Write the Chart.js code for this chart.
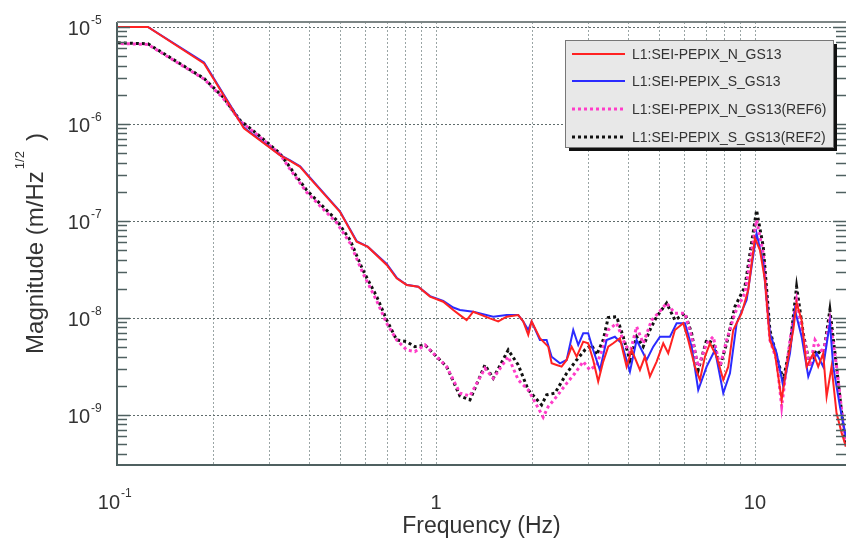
<!DOCTYPE html>
<html lang="en">
<head>
<meta charset="UTF-8">
<title>L1 SEI PEPIX GS13 spectra</title>
<script src="https://cdn.jsdelivr.net/npm/chart.js"></script>
<style>
  body { margin: 0; background: #fff; }
</style>
</head>
<body>
<canvas id="specChart" width="846" height="538"></canvas>
<script>
// L1:SEI-PEPIX_N_GS13 (red)
const nFreq = [0.0625, 0.125, 0.1875, 0.25, 0.324, 0.349, 0.375, 0.403, 0.5, 0.564, 0.612, 0.701, 0.753, 0.809, 0.88, 0.958, 1.054, 1.133, 1.189, 1.248, 1.309, 1.391, 1.476, 1.568, 1.666, 1.811, 1.878, 1.947, 1.995, 2.118, 2.249, 2.305, 2.39, 2.477, 2.569, 2.663, 2.761, 2.895, 3.001, 3.111, 3.226, 3.345, 3.468, 3.595, 3.773, 3.96, 4.106, 4.36, 4.52, 4.686, 4.919, 5.159, 5.348, 5.613, 5.96, 6.179, 6.485, 6.723, 6.971, 7.228, 7.585, 7.958, 8.25, 8.551, 9.085, 9.528, 10.0, 10.37, 10.75, 11.14, 11.55, 12.13, 12.57, 13.19, 13.51, 14.01, 14.53, 15.24, 15.79, 16.37, 16.78, 17.39, 18.03, 18.71, 19.29];
const nMag = [1e-5, 1e-5, 4.2e-6, 9e-7, 4.77e-7, 4.16e-7, 3.61e-7, 2.75e-7, 1.24e-7, 6.1e-8, 5.4e-8, 3.52e-8, 2.56e-8, 2.19e-8, 2.1e-8, 1.66e-8, 1.47e-8, 1.21e-8, 1.07e-8, 9.5e-9, 1.16e-8, 1.07e-8, 9.9e-9, 9.2e-9, 1.03e-8, 1.07e-8, 9.2e-9, 6.7e-9, 9.2e-9, 6.18e-9, 5.06e-9, 3.41e-9, 3.28e-9, 3.15e-9, 3.69e-9, 5.06e-9, 3.99e-9, 5.7e-9, 5.48e-9, 3.69e-9, 2.21e-9, 3.55e-9, 5.06e-9, 5.48e-9, 6.18e-9, 3.15e-9, 4.68e-9, 2.91e-9, 3.99e-9, 2.49e-9, 3.55e-9, 5.48e-9, 4.33e-9, 7.52e-9, 8.81e-9, 5.93e-9, 3.15e-9, 2.3e-9, 3.99e-9, 5.48e-9, 3.99e-9, 2.3e-9, 3.15e-9, 7.52e-9, 1.12e-8, 1.94e-8, 6.67e-8, 5e-8, 2.46e-8, 5.93e-9, 4.33e-9, 1.43e-9, 3.15e-9, 7.52e-9, 1.43e-8, 9.5e-9, 3.15e-9, 4.33e-9, 3.15e-9, 4.33e-9, 1.55e-9, 3.15e-9, 1.04e-9, 6.5e-10, 4.73e-10];

// L1:SEI-PEPIX_S_GS13 (blue)
const sFreq = [0.0625, 0.125, 0.1875, 0.25, 0.324, 0.349, 0.375, 0.403, 0.5, 0.564, 0.612, 0.701, 0.753, 0.809, 0.88, 0.958, 1.054, 1.133, 1.189, 1.309, 1.512, 1.666, 1.811, 1.878, 1.947, 1.995, 2.118, 2.223, 2.305, 2.448, 2.569, 2.694, 2.793, 2.895, 3.001, 3.111, 3.266, 3.428, 3.639, 3.82, 4.056, 4.257, 4.576, 4.8, 5.038, 5.414, 5.682, 6.034, 6.333, 6.642, 7.057, 7.493, 7.958, 8.351, 8.763, 9.419, 10.12, 10.62, 11.14, 11.7, 12.27, 12.88, 13.35, 14.01, 14.7, 15.61, 16.37, 17.18, 17.6, 18.48, 19.29];
const sMag = [1e-5, 1e-5, 4.3e-6, 9.2e-7, 4.8e-7, 4.2e-7, 3.65e-7, 2.8e-7, 1.26e-7, 6.2e-8, 5.4e-8, 3.6e-8, 2.6e-8, 2.2e-8, 2.1e-8, 1.68e-8, 1.5e-8, 1.28e-8, 1.21e-8, 1.16e-8, 1.03e-8, 1.07e-8, 1.07e-8, 9.2e-9, 7.52e-9, 9.2e-9, 5.93e-9, 5.93e-9, 3.99e-9, 3.41e-9, 3.69e-9, 7.52e-9, 5.27e-9, 6.95e-9, 6.95e-9, 4.68e-9, 2.91e-9, 5.93e-9, 6.41e-9, 5.48e-9, 2.8e-9, 5.93e-9, 3.69e-9, 5.06e-9, 6.41e-9, 6.41e-9, 8.81e-9, 8.81e-9, 5.06e-9, 1.81e-9, 3.15e-9, 4.68e-9, 1.68e-9, 2.69e-9, 8.81e-9, 1.53e-8, 7.45e-8, 3.66e-8, 6.95e-9, 4.33e-9, 1.96e-9, 4.33e-9, 1.21e-8, 6.41e-9, 2.49e-9, 4.33e-9, 3.15e-9, 8.87e-9, 3.15e-9, 1.21e-9, 5.93e-10];

// L1:SEI-PEPIX_N_GS13(REF6) (magenta, dotted)
const nRefFreq = [0.0625, 0.125, 0.1875, 0.215, 0.243, 0.274, 0.324, 0.349, 0.393, 0.488, 0.538, 0.59, 0.652, 0.701, 0.753, 0.809, 0.859, 0.924, 1.005, 1.08, 1.189, 1.278, 1.424, 1.512, 1.685, 1.811, 1.947, 2.169, 2.249, 2.39, 2.569, 2.727, 2.895, 3.038, 3.189, 3.345, 3.468, 3.685, 3.864, 4.056, 4.257, 4.465, 4.745, 4.977, 5.287, 5.613, 6.034, 6.333, 6.642, 7.057, 7.402, 7.77, 8.155, 8.657, 9.304, 10.12, 10.62, 11.14, 11.7, 12.13, 12.88, 13.51, 14.17, 14.88, 15.43, 16.37, 17.18, 18.03, 19.29];
const nRefMag = [7.1e-6, 6.6e-6, 2.9e-6, 1.85e-6, 1.07e-6, 7.8e-7, 4.9e-7, 3.4e-7, 1.98e-7, 9.6e-8, 5.9e-8, 2.9e-8, 1.5e-8, 8.8e-9, 5.93e-9, 4.68e-9, 4.5e-9, 5.27e-9, 3.99e-9, 3.15e-9, 1.68e-9, 1.57e-9, 3.03e-9, 2.39e-9, 3.99e-9, 2.3e-9, 1.81e-9, 9.5e-10, 1.22e-9, 1.55e-9, 2.12e-9, 2.69e-9, 3.55e-9, 2.91e-9, 3.28e-9, 5.06e-9, 7.52e-9, 8.81e-9, 5.93e-9, 4.33e-9, 8.13e-9, 5.48e-9, 9.5e-9, 1.12e-8, 1.42e-8, 1.12e-8, 1.12e-8, 6.41e-9, 3.15e-9, 5.48e-9, 6.41e-9, 3.15e-9, 5.93e-9, 1.12e-8, 1.8e-8, 1.02e-7, 4.64e-8, 5.93e-9, 3.69e-9, 1.22e-9, 5.93e-9, 1.53e-8, 6.41e-9, 3.15e-9, 5.93e-9, 4.33e-9, 9.5e-9, 3.15e-9, 4.73e-10];

// L1:SEI-PEPIX_S_GS13(REF2) (black, dotted)
const sRefFreq = [0.0625, 0.125, 0.1875, 0.215, 0.243, 0.274, 0.324, 0.349, 0.393, 0.488, 0.538, 0.59, 0.652, 0.701, 0.753, 0.809, 0.859, 0.924, 1.005, 1.08, 1.189, 1.278, 1.424, 1.512, 1.685, 1.811, 1.947, 2.144, 2.223, 2.361, 2.569, 2.761, 2.931, 3.076, 3.189, 3.345, 3.468, 3.685, 3.864, 4.056, 4.257, 4.465, 4.686, 4.919, 5.287, 5.613, 6.034, 6.333, 6.642, 7.057, 7.402, 7.77, 8.155, 8.657, 9.304, 10.12, 10.62, 11.14, 11.7, 12.27, 12.88, 13.51, 14.17, 14.88, 15.61, 16.37, 17.18, 18.03, 18.71, 19.29];
const sRefMag = [7.2e-6, 6.7e-6, 2.94e-6, 1.9e-6, 1.09e-6, 7.98e-7, 4.97e-7, 3.55e-7, 2.08e-7, 1.02e-7, 6.35e-8, 3.12e-8, 1.66e-8, 9.5e-9, 5.93e-9, 5.7e-9, 5.06e-9, 5.27e-9, 3.99e-9, 3.15e-9, 1.57e-9, 1.43e-9, 3.28e-9, 2.39e-9, 4.68e-9, 3.28e-9, 1.81e-9, 1.27e-9, 1.61e-9, 1.68e-9, 2.69e-9, 3.69e-9, 4.68e-9, 5.27e-9, 4.16e-9, 5.93e-9, 1.01e-8, 1.03e-8, 6.41e-9, 3.69e-9, 6.41e-9, 5.06e-9, 7.52e-9, 1.03e-8, 1.42e-8, 9.5e-9, 1.12e-8, 6.95e-9, 2.91e-9, 5.93e-9, 5.48e-9, 3.15e-9, 5.48e-9, 1.31e-8, 2.1e-8, 1.29e-7, 5.42e-8, 7.52e-9, 3.99e-9, 2.3e-9, 5.06e-9, 2.1e-8, 6.95e-9, 3.15e-9, 4.68e-9, 3.99e-9, 1.21e-8, 3.15e-9, 1.04e-9, 4.73e-10];

// axis tick labels (drawn as 10 with a superscript exponent)
const xTickValues = [0.1, 1, 10];
const xTickText = ['10', '1', '10'];
const xTickExp = ['-1', '', ''];
const yTickValues = [1e-5, 1e-6, 1e-7, 1e-8, 1e-9];
const yTickExp = ['-5', '-6', '-7', '-8', '-9'];

const FONT = '"Liberation Sans", Arial, sans-serif';
const AXIS = '#4f6060';

function pts(f, m) { return f.map((v, i) => ({ x: v, y: m[i] })); }

function seg(ctx, x1, y1, x2, y2) {
  ctx.beginPath(); ctx.moveTo(x1, y1); ctx.lineTo(x2, y2); ctx.stroke();
}

const framePlugin = {
  id: 'frame',
  beforeDatasetsDraw(chart) {
    const { ctx, chartArea: a, scales: { x, y } } = chart;
    ctx.save();
    ctx.lineWidth = 1;
    // vertical grid at 1..9 of each decade
    ctx.strokeStyle = '#9aa5a5';
    ctx.setLineDash([2, 2]);
    for (let d = 0.1; d < 100; d *= 10) {
      for (let k = 1; k < 10; k++) {
        const v = d * k;
        if (v <= x.min * 1.001 || v > x.max) continue;
        const px = Math.round(x.getPixelForValue(v)) + 0.5;
        seg(ctx, px, a.top, px, a.bottom);
      }
    }
    // horizontal grid at decades
    ctx.strokeStyle = '#5f6c6c';
    yTickValues.forEach(v => {
      const py = Math.round(y.getPixelForValue(v)) + 0.5;
      seg(ctx, a.left, py, a.right, py);
    });
    ctx.restore();
  },
  afterDatasetsDraw(chart) {
    const { ctx, chartArea: a, scales: { x, y } } = chart;
    ctx.save();
    // minor ticks on left / right axes
    ctx.strokeStyle = AXIS;
    ctx.lineWidth = 1.5;
    for (let d = 1e-10; d < 1e-4; d *= 10) {
      for (let k = 1; k < 10; k++) {
        const v = d * k;
        if (v < y.min || v > y.max) continue;
        const py = Math.round(y.getPixelForValue(v)) + 0.5;
        const len = k === 1 ? 13 : 10;
        seg(ctx, a.left, py, a.left + len, py);
        seg(ctx, a.right, py, a.right - len, py);
      }
    }
    // frame
    ctx.lineWidth = 2;
    seg(ctx, a.left, a.top, a.left, a.bottom + 1);
    seg(ctx, a.left - 1, a.bottom, a.right, a.bottom);
    ctx.strokeStyle = '#7d8686';
    seg(ctx, a.left, a.top, a.right, a.top);

    // tick labels
    ctx.fillStyle = '#333';
    ctx.textBaseline = 'alphabetic';
    yTickValues.forEach((v, i) => {
      const py = y.getPixelForValue(v);
      ctx.font = '20px ' + FONT;
      ctx.textAlign = 'right';
      ctx.fillText('10', 90, py + 8);
      ctx.font = '12px ' + FONT;
      ctx.textAlign = 'left';
      ctx.fillText(yTickExp[i], 91, py - 3);
    });
    xTickValues.forEach((v, i) => {
      const px = x.getPixelForValue(v);
      if (xTickExp[i]) {
        ctx.font = '20px ' + FONT;
        ctx.textAlign = 'right';
        ctx.fillText(xTickText[i], px + 3, 509);
        ctx.font = '12px ' + FONT;
        ctx.textAlign = 'left';
        ctx.fillText(xTickExp[i], px + 4, 497);
      } else {
        ctx.font = '20px ' + FONT;
        ctx.textAlign = 'center';
        ctx.fillText(xTickText[i], px, 509);
      }
    });

    // axis titles
    ctx.font = '23px ' + FONT;
    ctx.textAlign = 'center';
    ctx.fillText('Frequency (Hz)', (a.left + a.right) / 2, 533);

    ctx.save();
    ctx.translate(43, (a.top + a.bottom) / 2);
    ctx.rotate(-Math.PI / 2);
    ctx.textAlign = 'left';
    const main = 'Magnitude (m/Hz';
    ctx.font = '24px ' + FONT;
    const wMain = ctx.measureText(main).width;
    const wClose = ctx.measureText(')').width;
    ctx.font = '13px ' + FONT;
    const wSup = ctx.measureText('1/2').width;
    const total = wMain + 2 + wSup + 10 + wClose;
    let cx = -total / 2;
    ctx.font = '24px ' + FONT;
    ctx.fillText(main, cx, 0);
    cx += wMain + 2;
    ctx.font = '13px ' + FONT;
    ctx.fillText('1/2', cx, -19);
    cx += wSup + 10;
    ctx.font = '24px ' + FONT;
    ctx.fillText(')', cx, 0);
    ctx.restore();

    // legend box
    const bx = 565, by = 40, bw = 268, bh = 107;
    ctx.fillStyle = '#111';
    ctx.fillRect(bx + 4, by + 4, bw, bh);
    ctx.fillStyle = '#e8e8e8';
    ctx.fillRect(bx, by, bw, bh);
    ctx.strokeStyle = '#777';
    ctx.lineWidth = 1;
    ctx.strokeRect(bx + 0.5, by + 0.5, bw, bh);
    const rowY = [54, 81, 109, 137];
    ctx.font = '14px ' + FONT;
    ctx.textAlign = 'left';
    ctx.textBaseline = 'middle';
    chart.data.datasets.forEach((ds, i) => {
      ctx.save();
      ctx.strokeStyle = ds.borderColor;
      ctx.lineWidth = ds.borderWidth;
      ctx.setLineDash(ds.borderDash || []);
      seg(ctx, 572, rowY[i], 625, rowY[i]);
      ctx.restore();
      ctx.fillStyle = '#333';
      ctx.fillText(ds.label, 632, rowY[i] + 1);
    });
    ctx.restore();
  }
};

const ctx = document.getElementById('specChart').getContext('2d');
new Chart(ctx, {
  type: 'line',
  data: {
    datasets: [
      { label: 'L1:SEI-PEPIX_N_GS13', data: pts(nFreq, nMag), borderColor: '#ff2222', borderWidth: 2 },
      { label: 'L1:SEI-PEPIX_S_GS13', data: pts(sFreq, sMag), borderColor: '#2b2bff', borderWidth: 2 },
      { label: 'L1:SEI-PEPIX_N_GS13(REF6)', data: pts(nRefFreq, nRefMag), borderColor: '#ff3cc8', borderWidth: 3, borderDash: [3, 3], borderDashOffset: 3 },
      { label: 'L1:SEI-PEPIX_S_GS13(REF2)', data: pts(sRefFreq, sRefMag), borderColor: '#111111', borderWidth: 3, borderDash: [3, 3] }
    ]
  },
  options: {
    responsive: false,
    animation: false,
    devicePixelRatio: 1,
    layout: { padding: { top: 22, left: 0, right: 0, bottom: 0 } },
    elements: { point: { radius: 0 }, line: { tension: 0, borderCapStyle: 'butt' } },
    datasets: { line: { clip: 0 } },
    plugins: { legend: { display: false }, tooltip: { enabled: false } },
    scales: {
      x: {
        type: 'logarithmic', min: 0.1, max: 19.3, bounds: 'data',
        grid: { display: false }, border: { display: false },
        ticks: { display: false },
        afterFit: s => { s.height = 73; }
      },
      y: {
        type: 'logarithmic', min: 3.05e-10, max: 1.124e-5, bounds: 'data',
        grid: { display: false }, border: { display: false },
        ticks: { display: false },
        afterFit: s => { s.width = 117; }
      }
    }
  },
  plugins: [framePlugin]
});
</script>
</body>
</html>
